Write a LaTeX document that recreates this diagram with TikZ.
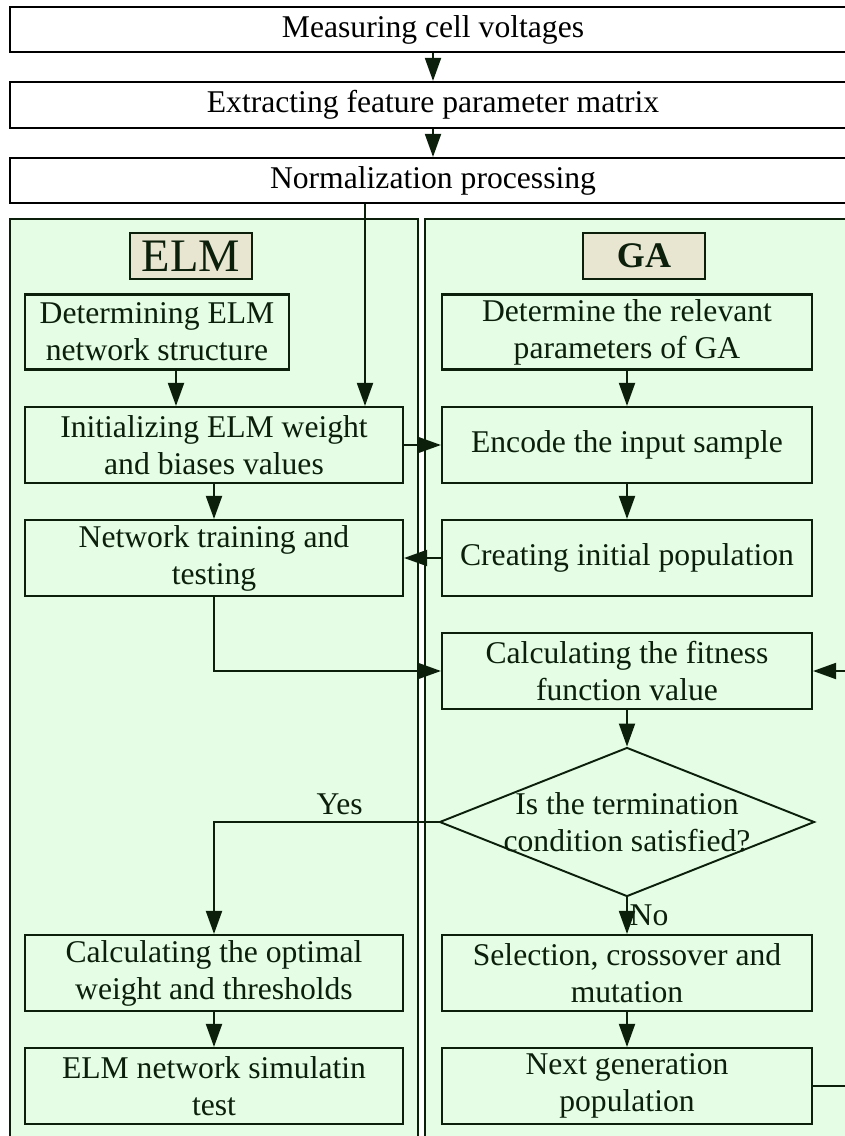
\documentclass[tikz,border=0pt]{standalone}
\usepackage{fontspec}
\setmainfont{Liberation Serif}
\usepackage{tikz}
\usetikzlibrary{arrows.meta,calc,positioning,shapes.geometric}
\definecolor{FlowInk}{HTML}{0B1F0B}
\definecolor{PanelGreen}{HTML}{E4FDE4}
\definecolor{TitleTan}{HTML}{E8E5D1}

\begin{document}
\begin{tikzpicture}[
      font=\fontsize{18}{21}\selectfont,
      topbox/.style={draw=black,line width=1.2pt,fill=white,minimum width=16.92cm,minimum height=0.9cm,inner sep=0pt},
      panel/.style={draw=FlowInk,line width=0.9pt,fill=PanelGreen},
      titlebox/.style={draw=FlowInk,line width=1.2pt,fill=TitleTan,text=FlowInk,minimum width=2.43cm,minimum height=0.92cm,inner sep=0pt},
      proc/.style={draw=FlowInk,line width=1.2pt,fill=PanelGreen,text=FlowInk,minimum height=1.52cm,align=center,inner sep=1pt},
      elmbox/.style={proc,minimum width=7.56cm},
      gabox/.style={proc,minimum width=7.4cm},
      flow/.style={draw=FlowInk,line width=1.1pt,-{Triangle[length=0.46cm,width=0.32cm]}}
    ]
      \useasboundingbox (0,0) rectangle (16.9,-22.72);

      \node[topbox] (measure) at (8.66,-0.59) {Measuring cell voltages};
      \node[topbox,minimum height=0.92cm] (extract) at (8.66,-2.1) {Extracting feature parameter matrix};
      \node[topbox] (normalize) at (8.66,-3.61) {Normalization processing};

      \draw[panel] (0.2,-4.38) rectangle (8.36,-23.2);
      \draw[panel] (8.5,-4.38) rectangle (17.4,-23.2);

      \node[titlebox,font=\fontsize{26.5}{28}\selectfont] (elmtitle) at (3.82,-5.12) {ELM};
      \node[titlebox,font=\fontsize{20.5}{24}\selectfont\bfseries] (gatitle) at (12.88,-5.12) {GA};

      \node[proc,minimum width=5.28cm,minimum height=1.5cm] (elmstruct) at (3.14,-6.64) {Determining ELM\\network structure};
      \node[elmbox] (elminit) at (4.28,-8.9) {Initializing ELM weight\\and biases values};
      \node[elmbox] (elmtrain) at (4.28,-11.16) {Network training and\\testing};
      \node[elmbox] (elmoptimal) at (4.28,-19.46) {Calculating the optimal\\weight and thresholds};
      \node[elmbox] (elmsimtest) at (4.28,-21.72) {ELM network simulatin\\test};

      \node[gabox,minimum height=1.5cm] (gaparams) at (12.54,-6.64) {Determine the relevant\\parameters of GA};
      \node[gabox] (gaencode) at (12.54,-8.9) {Encode the input sample};
      \node[gabox] (gapopulation) at (12.54,-11.16) {Creating initial population};
      \node[gabox] (gafitness) at (12.54,-13.42) {Calculating the fitness\\function value};
      \node[draw=FlowInk,line width=1.1pt,fill=PanelGreen,text=FlowInk,shape=diamond,aspect=2.5,inner sep=-8pt,
            minimum width=7.5cm,minimum height=2.98cm,align=center] (gacheck) at (12.54,-16.44)
        {Is the termination\\condition satisfied?};
      \node[gabox] (gaselect) at (12.54,-19.46) {Selection, crossover and\\mutation};
      \node[gabox] (ganext) at (12.54,-21.72) {Next generation\\population};

      \draw[flow] (measure) -- (extract);
      \draw[flow] (extract) -- (normalize);
      \draw[flow] (normalize.south -| 7.3,0) -- (elminit.north -| 7.3,0);
      \draw[flow] ([xshift=0.38cm]elmstruct.south) -- ([xshift=0.38cm]elmstruct.south |- elminit.north);
      \draw[flow] (elminit) -- (elmtrain);
      \draw[flow] (elminit) -- (gaencode);
      \draw[flow] (gapopulation) -- (elmtrain);
      \draw[flow] (elmtrain.south) |- (gafitness.west);

      \draw[flow] (gaparams) -- (gaencode);
      \draw[flow] (gaencode) -- (gapopulation);
      \draw[flow] (gafitness) -- (gacheck);
      \draw[flow] (gacheck.west) -| node[pos=0.22,above,text=FlowInk] {Yes} (elmoptimal.north);
      \draw[flow] (gacheck.south) -- node[right,inner sep=1pt,text=FlowInk] {No} (gaselect.north);
      \draw[flow] (elmoptimal) -- (elmsimtest);
      \draw[flow] (gaselect) -- (ganext);
      \draw[flow] (ganext.east) -- ++(0.7cm,0) |- (gafitness.east);
    \end{tikzpicture}
\end{document}
